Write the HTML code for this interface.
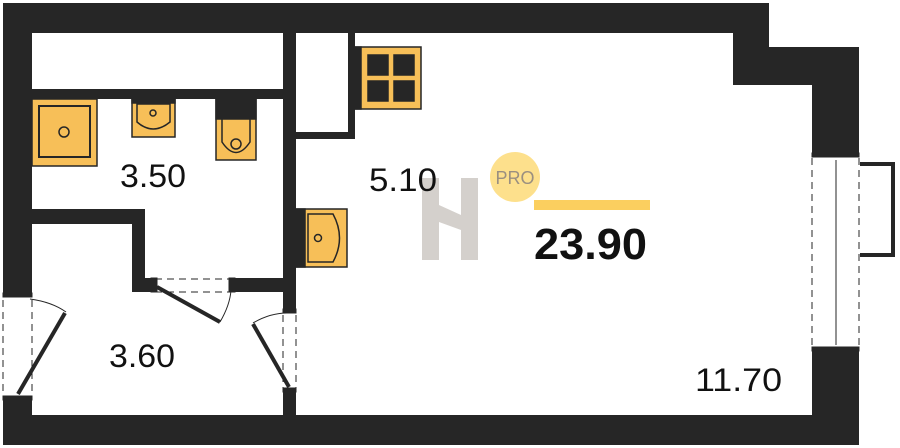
<!DOCTYPE html><html><head><style>body{margin:0;background:#fff}svg{display:block}text{font-family:"Liberation Sans",sans-serif}</style></head><body>
<svg width="900" height="448" viewBox="0 0 900 448" xmlns="http://www.w3.org/2000/svg">
<g fill="#262626">
<rect x="3" y="3" width="766" height="30"/>
<polygon points="733,33 769,33 769,47 859,47 859,155 812,155 812,85 733,85"/>
<rect x="812" y="350" width="47" height="95"/>
<rect x="3" y="415" width="856" height="30"/>
<rect x="3" y="3" width="29" height="291"/>
<rect x="3" y="399" width="29" height="46"/>
<rect x="32" y="89" width="251" height="10"/>
<rect x="283" y="33" width="13" height="276"/>
<rect x="283" y="389" width="13" height="26"/>
<rect x="348" y="33" width="7" height="106"/>
<rect x="296" y="132" width="59" height="7"/>
<rect x="32" y="209" width="113" height="15"/>
<rect x="132" y="209" width="13" height="83"/>
<rect x="132" y="278" width="20" height="14"/>
<rect x="232" y="278" width="51" height="14"/>
</g>
<g stroke="#262626" fill="none">
<rect x="812" y="153" width="47" height="4" fill="#262626"/>
<rect x="812" y="347" width="47" height="4" fill="#262626"/>
<line x1="812" y1="158" x2="812" y2="347" stroke-dasharray="7,5"/>
<line x1="859" y1="158" x2="859" y2="347" stroke-dasharray="7,5"/>
<line x1="836" y1="160" x2="836" y2="345"/>
<polyline points="860,164 893,164 893,255 860,255" stroke-width="4"/>
<rect x="3" y="293" width="29" height="4" fill="#262626"/>
<rect x="3" y="396" width="29" height="4" fill="#262626"/>
<line x1="3" y1="300" x2="3" y2="396" stroke-dasharray="7,5"/>
<line x1="32" y1="300" x2="32" y2="396" stroke-dasharray="7,5"/>
<line x1="18" y1="394" x2="65" y2="313" stroke-width="4"/>
<path d="M30,299 Q52,302 66,312"/>
<line x1="155" y1="279" x2="233" y2="279" stroke-dasharray="7,5"/>
<line x1="155" y1="292" x2="233" y2="292" stroke-dasharray="7,5"/>
<rect x="151" y="278" width="6" height="14" fill="#262626"/>
<rect x="229" y="278" width="6" height="14" fill="#262626"/>
<line x1="157" y1="287" x2="220" y2="322" stroke-width="4"/>
<path d="M220,322 Q230,305 231,290"/>
<rect x="283" y="309" width="13" height="4" fill="#262626"/>
<rect x="283" y="388" width="13" height="4" fill="#262626"/>
<line x1="283" y1="315" x2="283" y2="388" stroke-dasharray="7,5"/>
<line x1="296" y1="315" x2="296" y2="388" stroke-dasharray="7,5"/>
<line x1="253" y1="324" x2="289" y2="387" stroke-width="4"/>
<path d="M253,323 Q270,313 287,313"/>
</g>
<g stroke="#262626" stroke-width="1.5">
<rect x="32" y="99" width="65" height="67" fill="#f7bf58"/>
<rect x="39" y="106" width="51" height="51" fill="none" stroke-width="2"/>
<circle cx="64" cy="132" r="5" fill="none"/>
<rect x="132" y="99" width="43" height="38" fill="#f7bf58"/>
<rect x="132" y="99" width="43" height="4" fill="#262626"/>
<path d="M137,104 L170,104 L170,122 Q153,136 137,122 Z" fill="none"/>
<circle cx="153" cy="113" r="3" fill="none"/>
<rect x="216" y="98" width="40" height="62" fill="#f7bf58"/>
<rect x="216" y="98" width="40" height="21" fill="#262626"/>
<path d="M222,119 L222,142 Q236,163 250,142 L250,119" fill="none"/>
<circle cx="236" cy="144" r="5" fill="none"/>
<rect x="355" y="47" width="66" height="62" fill="#f7bf58"/>
<rect x="355" y="47" width="6" height="62" fill="#262626"/>
<rect x="368" y="55" width="20" height="20" fill="#262626"/>
<rect x="394" y="55" width="20" height="20" fill="#262626"/>
<rect x="368" y="81" width="20" height="20" fill="#262626"/>
<rect x="394" y="81" width="20" height="20" fill="#262626"/>
<rect x="296" y="209" width="51" height="58" fill="#f7bf58"/>
<rect x="296" y="209" width="9" height="58" fill="#262626"/>
<path d="M308,214 L333,214 Q346,238 333,262 L308,262 Z" fill="none"/>
<circle cx="318" cy="238" r="3.5" fill="none"/>
</g>
<g fill="#d4d0cc">
<rect x="422" y="178" width="17" height="82"/>
<rect x="461" y="178" width="17" height="82"/>
<polygon points="439,205 461,215 461,230 439,222"/>
</g>
<circle cx="515" cy="177" r="25" fill="#fde08c"/>
<text x="515" y="184" font-size="18" fill="#9a8f80" text-anchor="middle">PRO</text>
<rect x="534" y="200" width="116" height="10" fill="#fbcf5f"/>
<text x="534" y="259" font-size="44" font-weight="bold" fill="#111" textLength="113" lengthAdjust="spacingAndGlyphs">23.90</text>
<g font-size="32" fill="#111">
<text x="120" y="187" textLength="66" lengthAdjust="spacingAndGlyphs">3.50</text>
<text x="369" y="191" textLength="68" lengthAdjust="spacingAndGlyphs">5.10</text>
<text x="109" y="367" textLength="66" lengthAdjust="spacingAndGlyphs">3.60</text>
<text x="695" y="391" textLength="87" lengthAdjust="spacingAndGlyphs">11.70</text>
</g>
</svg>
</body></html>
